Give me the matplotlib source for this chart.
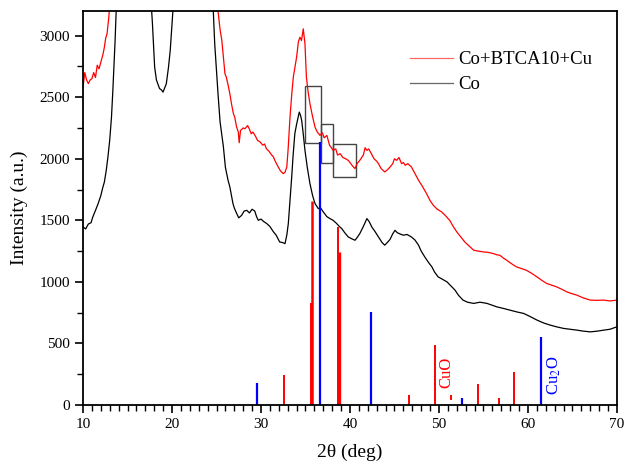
import numpy as np
import matplotlib
matplotlib.use('Agg')
import matplotlib.pyplot as plt
from matplotlib.patches import Rectangle
from matplotlib.ticker import MultipleLocator

plt.rcParams['font.family'] = ['Liberation Serif', 'DejaVu Serif']
plt.rcParams['mathtext.fontset'] = 'stix'

# Co pattern (black)
co_x = [10.0, 10.3, 10.6, 10.9, 11.1, 11.4, 11.7, 12.0, 12.2, 12.4, 12.6, 12.8, 13.0, 13.2, 13.35,
        13.45, 13.6, 13.75, 14.0, 15.0, 16.0, 17.0, 17.5, 17.8, 18.05, 18.25, 18.4, 18.6, 18.8, 18.99,
        19.15, 19.36, 19.6, 19.8, 20.1, 20.5, 21.5, 23.0, 24.0, 24.64, 24.8, 25.0, 25.17, 25.4, 25.77,
        26.0, 26.3, 26.5, 26.85, 27.0, 27.27, 27.5, 27.83, 28.1, 28.4, 28.7, 29.0, 29.3, 29.5, 29.7,
        30.0, 30.3, 30.64, 31.0, 31.4, 31.7, 32.1, 32.4, 32.7, 32.9, 33.07, 33.25, 33.45, 33.6, 33.8,
        34.0, 34.15, 34.3, 34.45, 34.57, 34.75, 34.94, 35.2, 35.5, 35.8, 36.07, 36.44, 36.7, 37.0, 37.4,
        37.75, 38.1, 38.5, 38.8, 39.07, 39.4, 39.8, 40.2, 40.56, 40.8, 41.1, 41.5, 41.9, 42.15, 42.45,
        42.8, 43.2, 43.6, 43.9, 44.2, 44.5, 44.8, 45.06, 45.3, 45.6, 46.0, 46.4, 46.9, 47.3, 47.7,
        48.0, 48.4, 48.8, 49.2, 49.5, 49.9, 50.4, 50.9, 51.3, 51.8, 52.2, 52.7, 53.2, 53.9, 54.6,
        55.4, 56.0, 56.5, 57.2, 58.0, 58.8, 59.5, 60.2, 61.0, 61.8, 62.5, 63.2, 64.0, 64.8, 65.5,
        66.2, 67.0, 67.8, 68.5, 69.2, 70.0]
co_y = [1446, 1430, 1470, 1480, 1527, 1580, 1636, 1700, 1760, 1811, 1900, 2014, 2150, 2338, 2550,
        2717, 2950, 3250, 3700, 4500, 4500, 3900, 3450, 3100, 2744, 2640, 2609, 2570, 2560, 2541,
        2570, 2609, 2740, 2879, 3200, 3700, 4500, 4500, 3800, 3200, 2933, 2717, 2528, 2300, 2100,
        1930, 1825, 1771, 1636, 1600, 1555, 1520, 1541, 1575, 1581, 1560, 1590, 1575, 1530, 1500,
        1510, 1490, 1474, 1450, 1406, 1380, 1324, 1320, 1311, 1380, 1474, 1650, 1852, 2020, 2203,
        2280, 2330, 2379, 2350, 2312, 2200, 2068, 1930, 1798, 1700, 1636, 1595, 1600, 1568, 1530,
        1514, 1500, 1474, 1450, 1433, 1400, 1365, 1350, 1338, 1360, 1392, 1450, 1514, 1490, 1446,
        1410, 1365, 1320, 1298, 1320, 1345, 1390, 1419, 1400, 1390, 1379, 1385, 1365, 1340, 1298,
        1250, 1203, 1160, 1122, 1080, 1041, 1020, 1000, 970, 933, 890, 852, 835, 825, 835,
        825, 810, 797, 785, 770, 755, 744, 720, 690, 665, 649, 635, 622, 615, 608,
        600, 594, 600, 608, 615, 635]

# Co+BTCA10+Cu pattern (red)
cu_x = [10.0, 10.2, 10.4, 10.6, 10.8, 11.0, 11.2, 11.4, 11.6, 11.8, 12.06, 12.25, 12.4, 12.55, 12.7,
        12.9, 13.0, 13.5, 14.5, 20.0, 24.5, 25.17, 25.4, 25.6, 25.8, 25.95, 26.1, 26.3, 26.5, 26.7,
        26.9, 27.05, 27.25, 27.45, 27.55, 27.7, 28.0, 28.2, 28.5, 28.7, 28.9, 29.1, 29.4, 29.6, 29.9,
        30.2, 30.4, 30.6, 30.9, 31.1, 31.4, 31.6, 31.94, 32.2, 32.5, 32.7, 32.9, 33.05, 33.26, 33.45,
        33.63, 33.8, 34.0, 34.2, 34.38, 34.55, 34.75, 34.94, 35.1, 35.3, 35.5, 35.8, 36.07, 36.3, 36.63,
        36.9, 37.1, 37.4, 37.7, 37.9, 38.1, 38.4, 38.6, 38.9, 39.2, 39.5, 39.8, 40.1, 40.3, 40.56,
        40.8, 41.1, 41.5, 41.7, 41.9, 42.1, 42.4, 42.7, 43.0, 43.2, 43.5, 43.9, 44.2, 44.5, 44.8,
        45.0, 45.25, 45.5, 45.8, 46.0, 46.2, 46.5, 46.9, 47.3, 47.7, 48.1, 48.6, 49.0, 49.36, 49.8,
        50.3, 50.7, 51.2, 51.6, 52.0, 52.4, 52.9, 53.4, 53.9, 54.4, 55.0, 55.5, 56.1, 56.5, 56.85,
        57.2, 57.6, 58.1, 58.7, 59.2, 59.8, 60.4, 61.0, 61.5, 62.1, 62.6, 63.2, 63.8, 64.35, 64.9,
        65.5, 66.2, 67.0, 67.7, 68.5, 69.2, 70.0]
cu_y = [2580, 2700, 2640, 2610, 2640, 2650, 2700, 2660, 2760, 2730, 2798, 2850, 2906, 2980, 3014,
        3150, 3250, 3800, 4600, 4600, 4000, 3200, 3050, 2960, 2800, 2690, 2663, 2600, 2528, 2440,
        2366, 2338, 2260, 2217, 2130, 2230, 2250, 2244, 2270, 2240, 2203, 2217, 2180, 2150, 2136,
        2110, 2120, 2082, 2060, 2040, 2014, 1980, 1933, 1900, 1879, 1890, 1933, 2080, 2338, 2520,
        2663, 2740, 2825, 2950, 2987, 2960, 3055, 2933, 2663, 2540, 2447, 2340, 2257, 2220, 2190,
        2210, 2170, 2190, 2110, 2090, 2068, 2080, 2030, 2041, 2010, 2000, 1987, 1960, 1940, 1920,
        1960, 1987, 2030, 2090, 2068, 2080, 2041, 2000, 1980, 1960, 1920, 1893, 1910, 1933, 1960,
        2000, 1987, 2010, 1960, 1970, 1947, 1960, 1933, 1880, 1825, 1780, 1717, 1660, 1622, 1590,
        1568, 1540, 1500, 1450, 1406, 1370, 1324, 1290, 1257, 1250, 1243, 1240, 1230, 1220, 1216,
        1195, 1176, 1150, 1122, 1110, 1095, 1070, 1041, 1015, 987, 975, 960, 940, 919, 905,
        892, 870, 852, 850, 852, 845, 852]

# reference sticks
cuo_pos = [32.55, 35.58, 35.76, 38.6, 38.8, 46.6, 49.5, 54.4, 56.74, 58.45]
cuo_int = [243, 825, 1660, 1446, 1245, 81, 486, 170, 54, 270]
cu2o_pos = [29.55, 36.67, 42.36, 52.55, 61.42]
cu2o_int = [180, 2135, 757, 54, 549]
cuo_thick = [1.4, 1.4, 1.8, 1.4, 2.4, 1.4, 1.4, 1.4, 1.4, 1.4]

# boxes: x0, x1, y0, y1
boxes = [(34.9, 36.78, 2130, 2590), (36.78, 38.12, 1965, 2279), (38.12, 40.67, 1852, 2122)]

fig = plt.figure(figsize=(6.26, 4.66), dpi=100)
ax = fig.add_axes([0.1326, 0.1309, 0.8530, 0.8455])

ax.plot(cu_x, cu_y, color='red', lw=0.9, label='Co+BTCA10+Cu')
ax.plot(co_x, co_y, color='black', lw=0.9, label='Co')

for p, h, w in zip(cuo_pos, cuo_int, cuo_thick):
    ax.vlines(p, 0, h, color='red', lw=w)
ax.vlines(cu2o_pos, 0, cu2o_int, color='blue', lw=1.6)
ax.plot([51.4, 51.4], [50, 70], color='red', lw=1.4)

for x0, x1, y0, y1 in boxes:
    ax.add_patch(Rectangle((x0, y0), x1 - x0, y1 - y0, fill=False, ec='#444444', lw=1.0))

ax.text(50.8, 268, 'CuO', color='red', rotation=90, ha='center', va='center', fontsize=12)
ax.text(63.0, 243, 'Cu$_2$O', color='blue', rotation=90, ha='center', va='center', fontsize=12)

ax.set_xlim(10, 70)
ax.set_ylim(0, 3200)
ax.xaxis.set_major_locator(MultipleLocator(10))
ax.xaxis.set_minor_locator(MultipleLocator(1))
ax.yaxis.set_major_locator(MultipleLocator(500))
ax.yaxis.set_minor_locator(MultipleLocator(250))
ax.tick_params(which='major', direction='out', length=6, width=1.2, labelsize=11)
ax.tick_params(which='minor', direction='out', length=4, width=1.0)
for s in ax.spines.values():
    s.set_linewidth(1.3)

ax.set_xlabel('2θ (deg)', fontsize=14, labelpad=9)
ax.set_ylabel('Intensity (a.u.)', fontsize=14, labelpad=8)

leg = ax.legend(loc='upper left', bbox_to_anchor=(0.598, 0.917), borderaxespad=0, frameon=False,
                fontsize=13.5, handlelength=2.3, labelspacing=0.42, handletextpad=0.27)
for l in leg.get_lines():
    l.set_alpha(0.6)

fig.savefig('out.png', dpi=100)
